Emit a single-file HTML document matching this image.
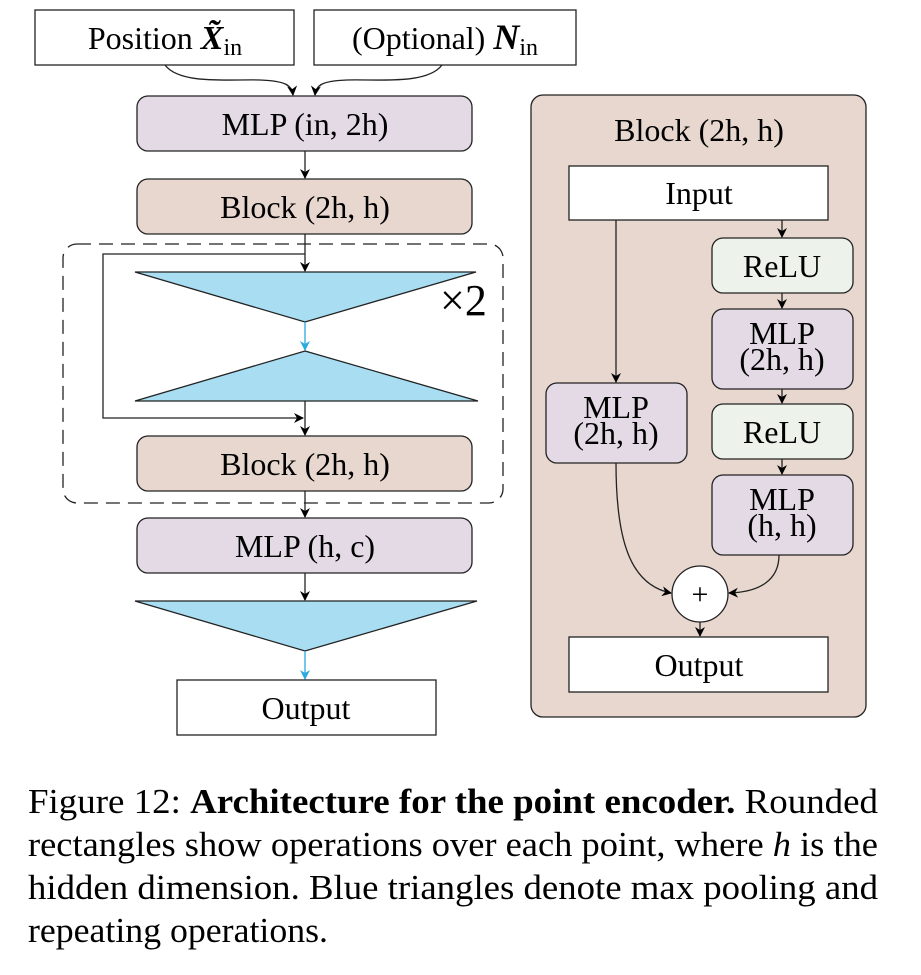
<!DOCTYPE html>
<html><head><meta charset="utf-8"><style>
html,body{margin:0;padding:0;background:#fff;}
svg{display:block;}
text{font-family:"Liberation Serif",serif;fill:#000;}
</style></head><body>
<svg width="921" height="975" viewBox="0 0 921 975" xmlns="http://www.w3.org/2000/svg">
<defs>
<marker id="a" markerWidth="10" markerHeight="10" refX="9" refY="5" orient="auto" markerUnits="userSpaceOnUse"><path d="M0,0 L10,5 L0,10 L3,5 Z" fill="#000"/></marker>
<marker id="b" markerWidth="10" markerHeight="10" refX="9" refY="5" orient="auto" markerUnits="userSpaceOnUse"><path d="M0,0 L10,5 L0,10 L3,5 Z" fill="#29a9e0"/></marker>
</defs>
<g stroke="#222" stroke-width="1.3" font-size="32">
<rect x="35" y="10" width="259" height="55" fill="#fff"/>
<text x="165" y="49" text-anchor="middle" stroke="none">Position <tspan font-weight="bold" font-style="italic" font-size="34">X̃</tspan><tspan font-size="24" dy="6">in</tspan></text>
<rect x="314" y="10" width="262" height="55" fill="#fff"/>
<text x="445" y="49" text-anchor="middle" stroke="none">(Optional) <tspan font-weight="bold" font-style="italic" font-size="36">N</tspan><tspan font-size="24" dy="6">in</tspan></text>
<path d="M165,65 C180,85 230,79 260,80 C285,81 292,85 293,95" fill="none" marker-end="url(#a)"/>
<path d="M442,65 C427,85 377,79 347,80 C322,81 316,85 315,95" fill="none" marker-end="url(#a)"/>

<rect x="137" y="96" width="335" height="55" rx="11" fill="#e3dae6"/>
<text x="305" y="135" text-anchor="middle" stroke="none">MLP (in, 2h)</text>
<line x1="305" y1="151" x2="305" y2="178" marker-end="url(#a)"/>
<rect x="137" y="179" width="335" height="55" rx="11" fill="#e8d7cf"/>
<text x="305" y="218" text-anchor="middle" stroke="none">Block (2h, h)</text>

<rect x="63" y="244" width="440" height="259" rx="14" fill="none" stroke-dasharray="14,8"/>
<line x1="305" y1="234" x2="305" y2="271" marker-end="url(#a)"/>
<path d="M305,254 L103,254 L103,418 L303,418" fill="none" marker-end="url(#a)"/>
<polygon points="135,272 476,272 305,322" fill="#a8ddf2"/>
<line x1="305" y1="322" x2="305" y2="350" stroke="#29a9e0" marker-end="url(#b)"/>
<polygon points="305,351 478,401 135,401" fill="#a8ddf2"/>
<line x1="305" y1="401" x2="305" y2="435" marker-end="url(#a)"/>
<text x="440" y="315" font-size="44" stroke="none">×2</text>
<rect x="137" y="436" width="335" height="55" rx="11" fill="#e8d7cf"/>
<text x="305" y="475" text-anchor="middle" stroke="none">Block (2h, h)</text>
<line x1="305" y1="491" x2="305" y2="517" marker-end="url(#a)"/>
<rect x="137" y="518" width="335" height="55" rx="11" fill="#e3dae6"/>
<text x="305" y="557" text-anchor="middle" stroke="none">MLP (h, c)</text>
<line x1="305" y1="573" x2="305" y2="600" marker-end="url(#a)"/>
<polygon points="135,601 477,601 305,651" fill="#a8ddf2"/>
<line x1="305" y1="651" x2="305" y2="679" stroke="#29a9e0" marker-end="url(#b)"/>
<rect x="177" y="680" width="259" height="55" fill="#fff"/>
<text x="306" y="719" text-anchor="middle" stroke="none">Output</text>

<rect x="531" y="95" width="335" height="622" rx="12" fill="#e8d7cf"/>
<text x="699" y="141" text-anchor="middle" stroke="none">Block (2h, h)</text>
<rect x="569" y="166" width="259" height="54" fill="#fff"/>
<text x="699" y="204" text-anchor="middle" stroke="none">Input</text>
<line x1="782" y1="220" x2="782" y2="237" marker-end="url(#a)"/>
<rect x="712" y="238" width="141" height="55" rx="11" fill="#edf3ea"/>
<text x="782" y="277" text-anchor="middle" stroke="none">ReLU</text>
<line x1="782" y1="293" x2="782" y2="308" marker-end="url(#a)"/>
<rect x="712" y="309" width="141" height="80" rx="11" fill="#e3dae6"/>
<text x="782" y="344" text-anchor="middle" stroke="none">MLP</text>
<text x="782" y="370" text-anchor="middle" stroke="none">(2h, h)</text>
<line x1="782" y1="389" x2="782" y2="403" marker-end="url(#a)"/>
<rect x="712" y="404" width="141" height="55" rx="11" fill="#edf3ea"/>
<text x="782" y="443" text-anchor="middle" stroke="none">ReLU</text>
<line x1="782" y1="459" x2="782" y2="474" marker-end="url(#a)"/>
<rect x="712" y="475" width="141" height="80" rx="11" fill="#e3dae6"/>
<text x="782" y="510" text-anchor="middle" stroke="none">MLP</text>
<text x="782" y="536" text-anchor="middle" stroke="none">(h, h)</text>
<line x1="616" y1="220" x2="616" y2="382" marker-end="url(#a)"/>
<rect x="546" y="383" width="141" height="80" rx="11" fill="#e3dae6"/>
<text x="616" y="418" text-anchor="middle" stroke="none">MLP</text>
<text x="616" y="444" text-anchor="middle" stroke="none">(2h, h)</text>
<path d="M616,463 C616,540 630,585 671,593" fill="none" marker-end="url(#a)"/>
<path d="M779,555 C779,580 760,592 729,593" fill="none" marker-end="url(#a)"/>
<circle cx="700" cy="594" r="28" fill="#fff"/>
<text x="700" y="604" text-anchor="middle" stroke="none" font-size="30">+</text>
<line x1="700" y1="622" x2="700" y2="636" marker-end="url(#a)"/>
<rect x="569" y="637" width="259" height="55" fill="#fff"/>
<text x="699" y="676" text-anchor="middle" stroke="none">Output</text>
</g>
<g font-size="35">
<text x="28" y="813" textLength="850" lengthAdjust="spacingAndGlyphs">Figure 12: <tspan font-weight="bold">Architecture for the point encoder.</tspan> Rounded</text>
<text x="28" y="856" textLength="850" lengthAdjust="spacingAndGlyphs">rectangles show operations over each point, where <tspan font-style="italic">h</tspan> is the</text>
<text x="28" y="899" textLength="850" lengthAdjust="spacingAndGlyphs">hidden dimension. Blue triangles denote max pooling and</text>
<text x="28" y="942" textLength="300" lengthAdjust="spacingAndGlyphs">repeating operations.</text>
</g>
</svg>
</body></html>
